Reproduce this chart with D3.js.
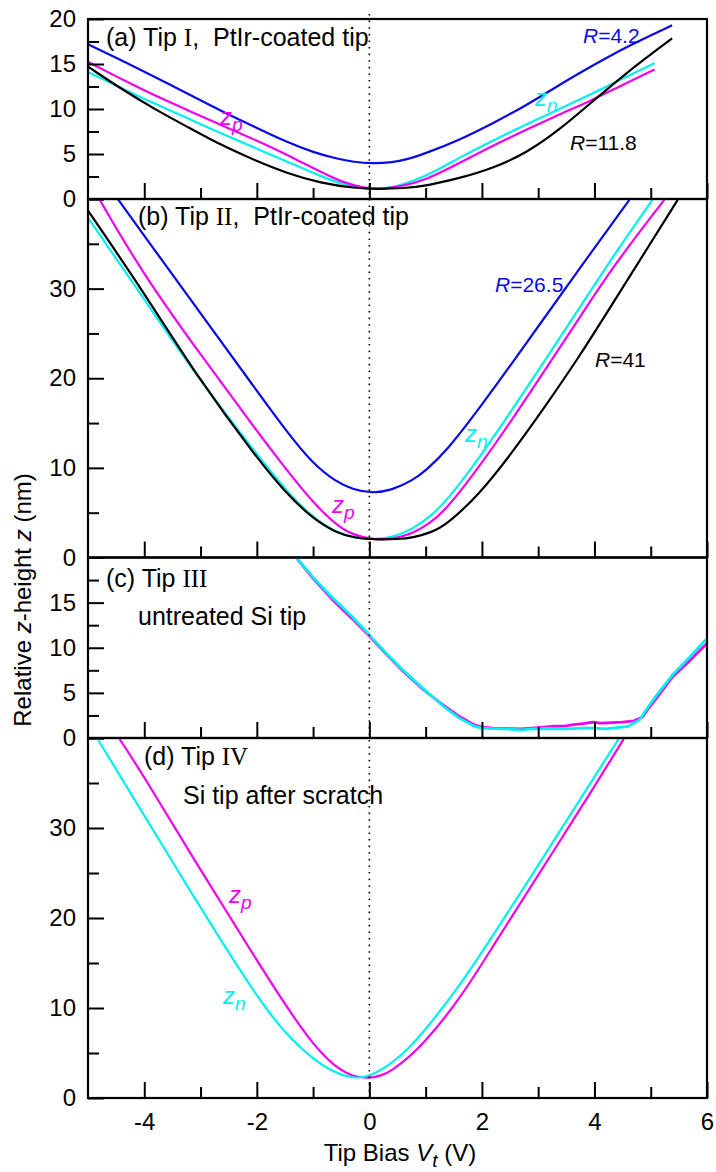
<!DOCTYPE html>
<html>
<head>
<meta charset="utf-8">
<script src="https://cdn.jsdelivr.net/npm/d3@7"></script>
<style>
  body { margin: 0; background: #fff; }
  text { font-family: "Liberation Sans", Arial, sans-serif; fill: #000; }
</style>
</head>
<body>
<svg id="chart" width="716" height="1172"></svg>
<script>
// ---- data: [tip bias V (V), relative z-height (nm)] ----
const biasTicks = [-4, -3, -2, -1, 0, 1, 2, 3, 4, 5, 6];
const biasLabels = [-4, -2, 0, 2, 4, 6];

// (a) Tip I
const a_blue = [[-5,17.2],[-4.4,15.4],[-3.82,13.6],[-3.2,11.6],[-2.64,9.8],[-2.0,7.9],[-1.46,6.3],[-1.0,5.2],[-0.6,4.5],[-0.27,4.1],[0.05,3.95],[0.4,4.05],[0.7,4.45],[1.01,5.1],[1.6,6.55],[2.19,8.4],[2.79,10.4],[3.38,12.7],[3.96,14.8],[4.56,16.9],[5.38,19.3]];
const a_black = [[-5,14.7],[-4.4,12.2],[-3.82,10.0],[-3.2,7.9],[-2.64,6.0],[-2.0,4.2],[-1.46,2.85],[-0.86,1.75],[-0.27,1.2],[0.2,1.1],[0.6,1.2],[1.0,1.45],[1.6,2.3],[2.19,3.4],[2.79,5.1],[3.38,7.7],[3.96,10.8],[4.56,14.0],[5.38,17.85]];
const a_cyan = [[-5,14.1],[-4.4,12.3],[-3.82,10.6],[-3.2,8.9],[-2.64,7.3],[-2.0,5.6],[-1.46,4.15],[-0.86,2.5],[-0.45,1.6],[-0.1,1.15],[0.2,1.1],[0.5,1.4],[1.01,2.5],[1.6,4.6],[2.19,6.5],[2.79,8.3],[3.38,10.0],[3.96,11.7],[4.44,13.2],[5.07,15.1]];
const a_magenta = [[-5,15.25],[-4.4,13.3],[-3.82,11.5],[-3.2,9.8],[-2.64,8.2],[-2.0,6.5],[-1.46,4.9],[-0.86,3.0],[-0.45,1.8],[-0.1,1.2],[0.2,1.1],[0.5,1.3],[1.01,2.1],[1.6,4.0],[2.19,5.9],[2.79,7.7],[3.38,9.4],[3.96,11.0],[4.44,12.5],[5.07,14.4]];

// (b) Tip II
const b_blue = [[-4.47,40],[-4.0,35.9],[-3.02,27.4],[-2.01,18.7],[-1.5,14.3],[-1.0,10.4],[-0.6,8.5],[-0.3,7.6],[0.05,7.15],[0.4,7.5],[0.77,8.6],[1.0,9.7],[1.36,11.8],[1.95,16.6],[2.55,21.8],[3.14,27.0],[3.73,32.2],[4.62,39.9]];
const b_black = [[-5,38.7],[-4.03,29.8],[-3.02,19.8],[-2.01,11.2],[-1.5,7.3],[-1.0,4.3],[-0.6,2.8],[-0.25,2.15],[0.15,2.0],[0.5,2.05],[0.77,2.2],[1.1,2.8],[1.36,3.6],[1.95,7.0],[2.55,11.8],[3.14,17.0],[3.73,22.4],[4.32,28.3],[4.91,34.2],[5.48,39.9]];
const b_cyan = [[-5,37.9],[-4.03,29.1],[-3.02,19.8],[-2.01,11.6],[-1.5,7.6],[-1.0,4.4],[-0.6,2.8],[-0.25,2.15],[0.1,2.0],[0.45,2.3],[0.77,3.2],[1.05,4.4],[1.36,6.2],[1.95,11.06],[2.55,16.6],[3.14,22.2],[3.73,27.8],[4.32,33.5],[5.03,39.9]];
const b_magenta = [[-4.8,40],[-4.03,31.7],[-3.02,22.8],[-2.01,14.2],[-1.5,10.0],[-1.0,6.1],[-0.6,3.7],[-0.3,2.5],[0.1,1.95],[0.45,2.1],[0.77,2.7],[1.05,3.7],[1.36,5.3],[1.95,10.1],[2.55,15.5],[3.14,21.1],[3.73,26.7],[4.32,32.4],[5.24,39.9]];

// (c) Tip III
const c_magenta = [[-1.3,20],[-1.0,17.7],[-0.65,15.3],[-0.3,13.2],[0,11.3],[0.3,9.3],[0.6,7.4],[0.95,5.4],[1.3,3.7],[1.6,2.4],[1.85,1.5],[2.0,1.2],[2.2,1.1],[2.43,1.05],[2.7,1.0],[2.9,1.1],[3.0,1.15],[3.3,1.3],[3.5,1.35],[3.6,1.45],[3.8,1.6],[3.97,1.75],[4.1,1.65],[4.3,1.7],[4.5,1.75],[4.7,1.9],[4.85,2.3],[4.95,3.2],[5.1,4.4],[5.39,6.8],[5.7,8.6],[6.0,10.5]];
const c_cyan = [[-1.3,20],[-1.0,17.8],[-0.65,15.5],[-0.3,13.4],[0,11.4],[0.3,9.4],[0.6,7.5],[0.95,5.5],[1.3,3.6],[1.6,2.2],[1.85,1.35],[2.0,1.1],[2.2,1.05],[2.43,1.0],[2.7,0.9],[2.9,1.0],[3.2,1.05],[3.5,1.0],[3.8,1.1],[3.97,1.1],[4.2,1.0],[4.4,1.15],[4.6,1.3],[4.8,2.0],[4.94,3.3],[5.1,4.7],[5.39,7.0],[5.7,9.0],[5.98,10.9]];

// (d) Tip IV
const d_cyan = [[-4.84,40],[-4.03,31.7],[-3.02,21.3],[-2.01,11.3],[-1.5,7.2],[-1.0,4.3],[-0.6,2.75],[-0.3,2.2],[0,2.3],[0.41,3.9],[0.7,5.5],[1.0,7.6],[1.6,12.4],[2.19,18.0],[2.78,23.7],[3.37,29.5],[3.97,35.4],[4.44,40]];
const d_magenta = [[-4.45,40],[-4.03,36.0],[-3.02,25.5],[-2.01,15.4],[-1.5,10.4],[-1.0,5.9],[-0.6,3.4],[-0.3,2.4],[-0.05,2.2],[0.2,2.4],[0.41,3.1],[0.7,4.5],[1.0,6.3],[1.6,10.9],[2.19,16.8],[2.78,22.6],[3.37,28.4],[3.97,34.3],[4.53,40]];

// ---- layout ----
const BLUE = "#0a0ae6", BLACK = "#000", CYAN = "#00f0f0", MAGENTA = "#f000f0";
const svg = d3.select("#chart");
const left = 88, right = 707;
const x = d3.scaleLinear().domain([-5, 6]).range([left, right]);

const panels = [
  {top: 19, bottom: 199, max: 20, major: [0,5,10,15,20], labels: [0,5,10,15,20], minor: [2.5,7.5,12.5,17.5],
   series: [[a_cyan, CYAN], [a_magenta, MAGENTA], [a_black, BLACK], [a_blue, BLUE]], smooth: true},
  {top: 199, bottom: 557.5, max: 40, major: [0,10,20,30,40], labels: [0,10,20,30], minor: [5,15,25,35],
   series: [[b_cyan, CYAN], [b_magenta, MAGENTA], [b_black, BLACK], [b_blue, BLUE]], smooth: true},
  {top: 557.5, bottom: 738, max: 20, major: [0,5,10,15,20], labels: [0,5,10,15], minor: [2.5,7.5,12.5,17.5],
   series: [[c_magenta, MAGENTA], [c_cyan, CYAN]], smooth: false},
  {top: 738, bottom: 1098, max: 40, major: [0,10,20,30,40], labels: [0,10,20,30], minor: [5,15,25,35],
   series: [[d_magenta, MAGENTA], [d_cyan, CYAN]], smooth: true}
];

panels.forEach((p, i) => {
  const y = d3.scaleLinear().domain([0, p.max]).range([p.bottom, p.top]);
  const g = svg.append("g");

  svg.append("clipPath").attr("id", "clip" + i)
    .append("rect").attr("x", left).attr("y", p.top).attr("width", right - left).attr("height", p.bottom - p.top);

  // curves
  const line = d3.line()
    .x(d => x(d[0])).y(d => y(d[1]))
    .curve(p.smooth ? d3.curveBasis : d3.curveLinear);
  p.series.forEach(([data, color]) => {
    g.append("path").datum(data)
      .attr("clip-path", "url(#clip" + i + ")")
      .attr("d", line)
      .attr("fill", "none")
      .attr("stroke", color)
      .attr("stroke-width", p.smooth ? 2.2 : 2.8)
      .attr("stroke-linejoin", "round");
  });

  // y axis: inward ticks
  g.append("g").attr("transform", `translate(${left},0)`)
    .call(d3.axisLeft(y).tickValues(p.major).tickSize(-16).tickPadding(12)
      .tickFormat(d => p.labels.includes(d) ? d : ""))
    .call(a => a.select(".domain").remove())
    .call(a => a.selectAll("line").attr("stroke-width", 2))
    .call(a => a.selectAll("text").attr("font-size", 24).attr("font-family", "Liberation Sans, Arial, sans-serif"));
  g.append("g").attr("transform", `translate(${left},0)`)
    .call(d3.axisLeft(y).tickValues(p.minor).tickSize(-11).tickFormat(""))
    .call(a => a.select(".domain").remove())
    .call(a => a.selectAll("line").attr("stroke-width", 2));

  // x axis ticks at panel bottom
  const last = i === panels.length - 1;
  g.append("g").attr("transform", `translate(0,${p.bottom})`)
    .call(d3.axisBottom(x).tickValues(biasTicks)
      .tickSize(0).tickPadding(10)
      .tickFormat(d => last && biasLabels.includes(d) ? d : ""))
    .call(a => a.select(".domain").remove())
    .call(a => a.selectAll(".tick line")
      .attr("y2", d => biasLabels.includes(d) ? -16 : -11)
      .attr("stroke-width", 2))
    .call(a => a.selectAll("text").attr("font-size", 24).attr("dy", "0.9em").attr("font-family", "Liberation Sans, Arial, sans-serif"));

  // frame
  g.append("rect").attr("x", left).attr("y", p.top)
    .attr("width", right - left).attr("height", p.bottom - p.top)
    .attr("fill", "none").attr("stroke", "#000").attr("stroke-width", 2.2);
});

// dotted line at V = 0
svg.append("line")
  .attr("x1", x(0)).attr("x2", x(0)).attr("y1", 14).attr("y2", 1098)
  .attr("stroke", "#000").attr("stroke-width", 1.6).attr("stroke-dasharray", "1.6,5");

// ---- annotations ----
function rich(xp, yp, parts, size, color) {
  const t = svg.append("text").attr("x", xp).attr("y", yp).attr("font-size", size).style("fill", color || "#000");
  parts.forEach(pt => {
    const s = t.append("tspan").text(pt.t);
    if (pt.serif) s.attr("font-family", "Liberation Serif, Times New Roman, serif");
    if (pt.it) s.attr("font-style", "italic");
    if (pt.sub) s.attr("baseline-shift", "-30%").attr("font-size", size * 0.8);
  });
  return t;
}

rich(106, 46, [{t: "(a) Tip "}, {t: "I", serif: true}, {t: ",\u00a0 PtIr-coated tip"}], 25);
rich(138, 225, [{t: "(b) Tip "}, {t: "II", serif: true}, {t: ",\u00a0 PtIr-coated tip"}], 25);
rich(106, 587, [{t: "(c) Tip "}, {t: "III", serif: true}], 25);
rich(138, 625, [{t: "untreated Si tip"}], 25);
rich(144, 765, [{t: "(d) Tip "}, {t: "IV", serif: true}], 25);
rich(183, 804, [{t: "Si tip after scratch"}], 25);

rich(583, 43, [{t: "R", it: true}, {t: "=4.2"}], 21, BLUE);
rich(570, 150, [{t: "R", it: true}, {t: "=11.8"}], 21, BLACK);
rich(495, 292, [{t: "R", it: true}, {t: "=26.5"}], 21, BLUE);
rich(595, 367, [{t: "R", it: true}, {t: "=41"}], 21, BLACK);

rich(220, 125, [{t: "z", it: true}, {t: "p", it: true, sub: true}], 24, MAGENTA);
rich(535, 106, [{t: "z", it: true}, {t: "n", it: true, sub: true}], 24, CYAN);
rich(465, 442, [{t: "z", it: true}, {t: "n", it: true, sub: true}], 24, CYAN);
rich(332, 513, [{t: "z", it: true}, {t: "p", it: true, sub: true}], 24, MAGENTA);
rich(229, 903, [{t: "z", it: true}, {t: "p", it: true, sub: true}], 24, MAGENTA);
rich(223, 1004, [{t: "z", it: true}, {t: "n", it: true, sub: true}], 24, CYAN);

// axis titles
rich(400, 1161, [{t: "Tip Bias "}, {t: "V", it: true}, {t: "t", it: true, sub: true}, {t: " (V)"}], 24)
  .attr("text-anchor", "middle");
rich(0, 0, [{t: "Relative "}, {t: "z", it: true}, {t: "-height "}, {t: "z", it: true}, {t: " (nm)"}], 24)
  .attr("text-anchor", "middle").attr("transform", "translate(31,600) rotate(-90)");
</script>
</body>
</html>
